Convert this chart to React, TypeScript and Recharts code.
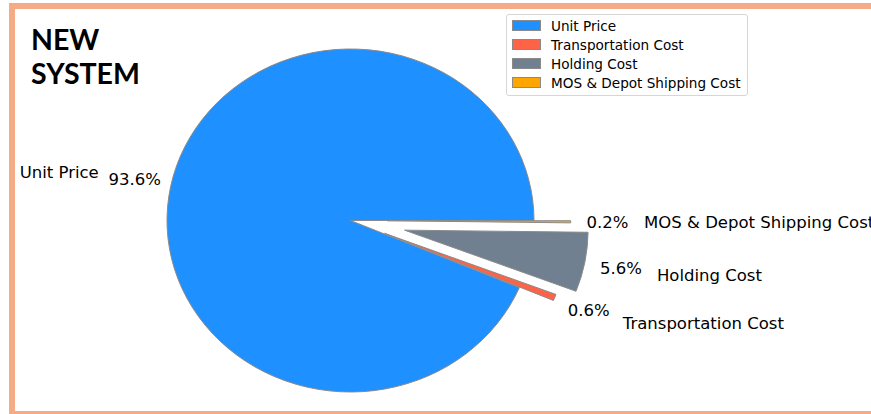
import { PieChart, Pie, Cell, Legend } from "recharts"

const categories = ["Unit Price", "Transportation Cost", "Holding Cost", "MOS & Depot Shipping Cost"]
const shares = [93.6, 0.6, 5.6, 0.2]
const sliceColors = ["#1E90FF", "#FF6347", "#708090", "#FFA500"]
const explode = [0, 0.2, 0.3, 0.2]

const data = categories.map((name, i) => ({ name, value: shares[i] }))

// the original figure is a bit wider than tall, so the pie is an ellipse
const XSCALE = 1.07
const RAD = Math.PI / 180
const FONT = "'DejaVu Sans', sans-serif"

function sliceIndex(props: any) {
  const name = props.payload?.name ?? props.name
  const i = categories.indexOf(name)
  return i < 0 ? (props.index ?? 0) : i
}

function EllipseSector(props: any) {
  const { cx, cy, outerRadius, startAngle, endAngle, fill } = props
  const i = sliceIndex(props)
  const rx = outerRadius * XSCALE
  const ry = outerRadius
  const mid = (startAngle + endAngle) / 2
  const ox = cx + explode[i] * rx * Math.cos(mid * RAD)
  const oy = cy - explode[i] * ry * Math.sin(mid * RAD)
  const pt = (a: number) => [ox + rx * Math.cos(a * RAD), oy - ry * Math.sin(a * RAD)]
  const [x1, y1] = pt(startAngle)
  const [x2, y2] = pt(endAngle)
  const large = Math.abs(endAngle - startAngle) > 180 ? 1 : 0
  const sweep = endAngle > startAngle ? 0 : 1
  const d = `M${ox},${oy} L${x1},${y1} A${rx},${ry} 0 ${large} ${sweep} ${x2},${y2} Z`
  return <path d={d} fill={fill} stroke="#8a8a8a" strokeWidth={1} strokeLinejoin="round" />
}

function renderLabel(props: any) {
  const { cx, cy, midAngle, outerRadius, percent } = props
  const i = sliceIndex(props)
  const rx = outerRadius * XSCALE
  const ry = outerRadius
  const c = Math.cos(midAngle * RAD)
  const s = Math.sin(midAngle * RAD)
  const pd = 1.2 + explode[i]
  const ld = 1.4 + explode[i]
  return (
    <g>
      <text x={cx + pd * rx * c} y={cy - pd * ry * s} textAnchor="middle" dominantBaseline="central"
        fontFamily={FONT} fontSize={16.5} fill="#000">
        {(percent * 100).toFixed(1)}%
      </text>
      <text x={cx + ld * rx * c} y={cy - ld * ry * s} textAnchor={c >= 0 ? "start" : "end"} dominantBaseline="central"
        fontFamily={FONT} fontSize={16.5} fill="#000">
        {categories[i]}
      </text>
    </g>
  )
}

function LegendBox() {
  return (
    <div style={{
      border: "1px solid #d6d6d6", borderRadius: 3, background: "#fff",
      padding: "1px 6px 3px 5px", fontFamily: FONT, fontSize: 13.6, color: "#000",
    }}>
      {categories.map((name, i) => (
        <div key={name} style={{ display: "flex", alignItems: "center", height: 19 }}>
          <span style={{
            display: "inline-block", width: 27, height: 9, background: sliceColors[i],
            border: "1px solid #8a8a8a", marginRight: 10,
          }} />
          <span>{name}</span>
        </div>
      ))}
    </div>
  )
}

export default function App() {
  return (
    <div style={{ position: "absolute", left: 0, top: 0, width: 871, height: 414, overflow: "hidden", background: "#fff" }}>
      <div style={{
        position: "absolute", left: 9, top: 3, width: 900, height: 414, boxSizing: "border-box",
        border: "6px solid #F4AB86",
      }} />
      <PieChart width={871} height={414} margin={{ top: 0, right: 0, bottom: 0, left: 0 }}
        style={{ position: "absolute", left: 0, top: 0 }}>
        <Pie
          data={data}
          dataKey="value"
          nameKey="name"
          cx={350.5}
          cy={220.5}
          outerRadius={171.5}
          startAngle={0}
          endAngle={360}
          stroke="#8a8a8a"
          shape={EllipseSector}
          label={renderLabel}
          labelLine={false}
          isAnimationActive={false}
        >
          {data.map((d, i) => (
            <Cell key={d.name} fill={sliceColors[i]} />
          ))}
        </Pie>
        <Legend content={<LegendBox />} wrapperStyle={{ position: "absolute", left: 506, top: 14, width: "auto" }} />
      </PieChart>
      <div style={{
        position: "absolute", left: 31, top: 22, fontFamily: "Lato, sans-serif", fontWeight: 700,
        fontSize: 28.5, lineHeight: "34px", color: "#000",
      }}>
        NEW<br />SYSTEM
      </div>
    </div>
  )
}
